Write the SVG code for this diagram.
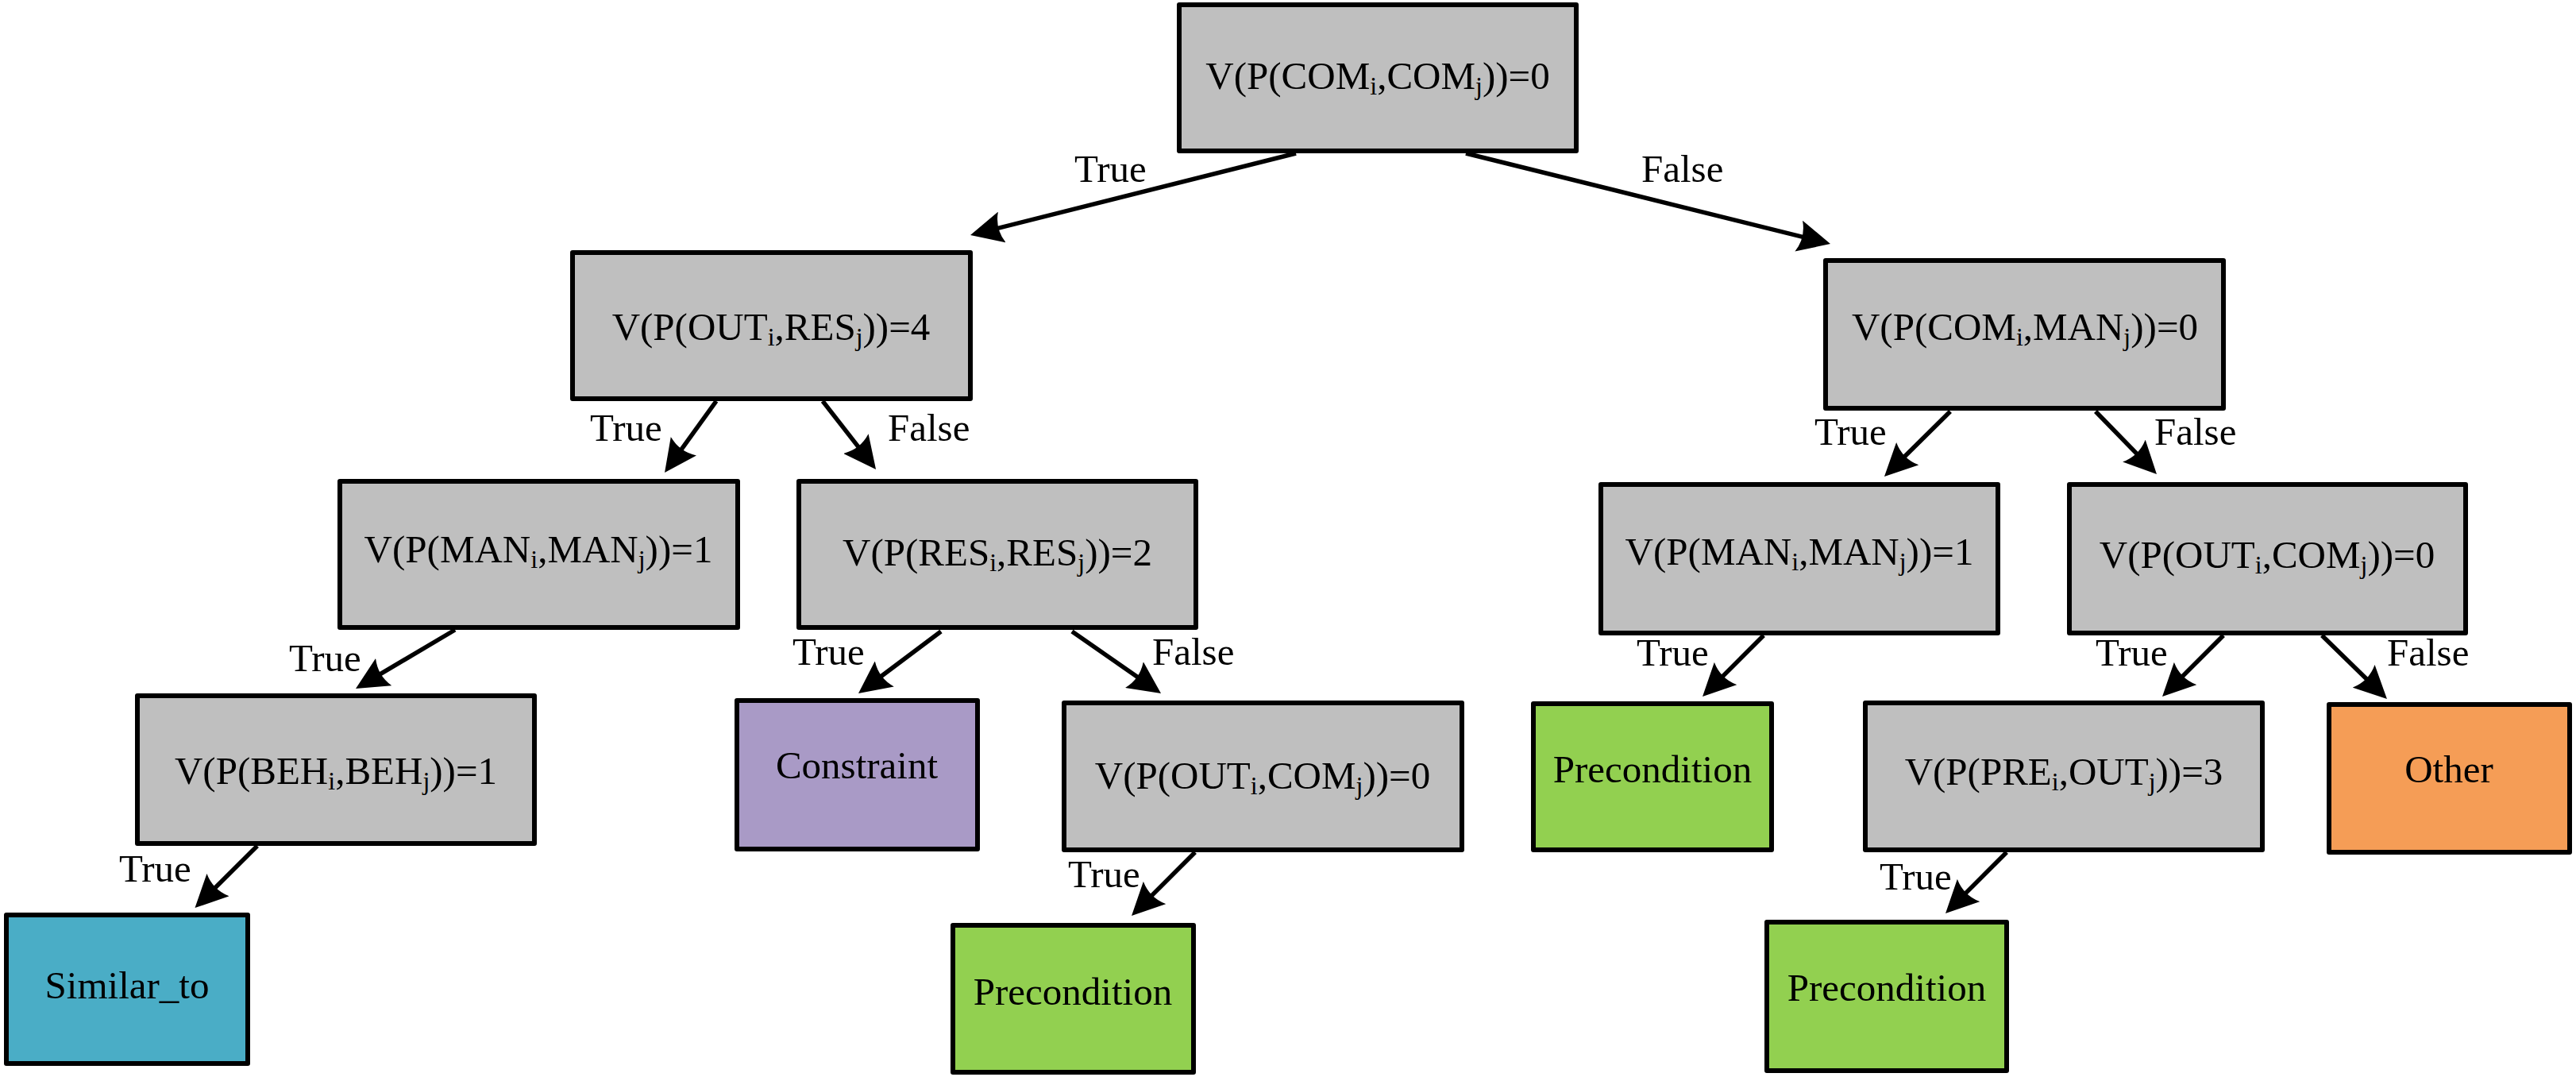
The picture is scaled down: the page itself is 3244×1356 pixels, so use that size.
<svg xmlns="http://www.w3.org/2000/svg" width="3244" height="1356" viewBox="0 0 3244 1356">
<style>
.box{stroke:#000;stroke-width:6;stroke-linejoin:round}
.g{fill:#BFBFBF}
.grn{fill:#92D050}
.pur{fill:#A99AC6}
.org{fill:#F59D56}
.teal{fill:#4AADC6}
.t{font-family:"Liberation Serif","Times New Roman",serif;font-size:49px;fill:#000;text-anchor:middle}
.lb{font-family:"Liberation Serif","Times New Roman",serif;font-size:49px;fill:#000}
.s{font-size:32px}
.c{stroke:#000;stroke-width:5.5;fill:none;marker-end:url(#ah)}
</style>
<defs>
<marker id="ah" markerUnits="userSpaceOnUse" markerWidth="42" markerHeight="40" viewBox="0 0 42 40" refX="31" refY="20" orient="auto">
<path d="M41,20 L0,0 Q9,20 0,40 Z" fill="#000"/>
</marker>
</defs>
<rect width="3244" height="1356" fill="#fff"/>

<g id="connectors">
<line class="c" x1="1632" y1="193" x2="1231.7" y2="293.6"/>
<line class="c" x1="1846" y1="193" x2="2295.3" y2="304.6"/>
<line class="c" x1="902" y1="505" x2="842.9" y2="586.9"/>
<line class="c" x1="1036" y1="505" x2="1096.9" y2="583.1"/>
<line class="c" x1="573" y1="793" x2="456.6" y2="861.9"/>
<line class="c" x1="324" y1="1065" x2="252.6" y2="1136"/>
<line class="c" x1="1185" y1="795" x2="1089" y2="867"/>
<line class="c" x1="1350" y1="795" x2="1453.8" y2="867.3"/>
<line class="c" x1="1505" y1="1073" x2="1432.1" y2="1145.9"/>
<line class="c" x1="2456" y1="518" x2="2380.1" y2="593"/>
<line class="c" x1="2639" y1="518" x2="2709" y2="589.8"/>
<line class="c" x1="2221" y1="800" x2="2151.1" y2="869.9"/>
<line class="c" x1="2800" y1="800" x2="2730.1" y2="869.9"/>
<line class="c" x1="2924" y1="800" x2="2998.8" y2="873"/>
<line class="c" x1="2527" y1="1073" x2="2457.1" y2="1142.9"/>
<text class="lb" x="1353" y="229">True</text>
<text class="lb" x="2067" y="229">False</text>
<text class="lb" x="743" y="555">True</text>
<text class="lb" x="1118" y="555">False</text>
<text class="lb" x="364" y="845">True</text>
<text class="lb" x="150" y="1110">True</text>
<text class="lb" x="998" y="837">True</text>
<text class="lb" x="1451" y="837">False</text>
<text class="lb" x="1345" y="1117">True</text>
<text class="lb" x="2285" y="560">True</text>
<text class="lb" x="2713" y="560">False</text>
<text class="lb" x="2061" y="838">True</text>
<text class="lb" x="2639" y="838">True</text>
<text class="lb" x="3006" y="838">False</text>
<text class="lb" x="2367" y="1120">True</text>
</g>

<g id="n-com-com">
<rect class="box g" x="1485" y="6" width="500" height="184"/>
<text class="t" x="1735" y="112">V(P(COM<tspan class="s" dy="7">i</tspan><tspan dy="-7">,COM</tspan><tspan class="s" dy="7">j</tspan><tspan dy="-7">))=0</tspan></text>
</g>
<g id="n-out-res">
<rect class="box g" x="721" y="318" width="501" height="184"/>
<text class="t" x="971" y="428">V(P(OUT<tspan class="s" dy="7">i</tspan><tspan dy="-7">,RES</tspan><tspan class="s" dy="7">j</tspan><tspan dy="-7">))=4</tspan></text>
</g>
<g id="n-com-man">
<rect class="box g" x="2299" y="328" width="501" height="186"/>
<text class="t" x="2550" y="428">V(P(COM<tspan class="s" dy="7">i</tspan><tspan dy="-7">,MAN</tspan><tspan class="s" dy="7">j</tspan><tspan dy="-7">))=0</tspan></text>
</g>
<g id="n-man-man-l">
<rect class="box g" x="428" y="606" width="501" height="184"/>
<text class="t" x="678" y="708">V(P(MAN<tspan class="s" dy="7">i</tspan><tspan dy="-7">,MAN</tspan><tspan class="s" dy="7">j</tspan><tspan dy="-7">))=1</tspan></text>
</g>
<g id="n-res-res">
<rect class="box g" x="1006" y="606" width="500" height="184"/>
<text class="t" x="1256" y="712">V(P(RES<tspan class="s" dy="7">i</tspan><tspan dy="-7">,RES</tspan><tspan class="s" dy="7">j</tspan><tspan dy="-7">))=2</tspan></text>
</g>
<g id="n-man-man-r">
<rect class="box g" x="2016" y="610" width="500" height="187"/>
<text class="t" x="2266" y="711">V(P(MAN<tspan class="s" dy="7">i</tspan><tspan dy="-7">,MAN</tspan><tspan class="s" dy="7">j</tspan><tspan dy="-7">))=1</tspan></text>
</g>
<g id="n-out-com-r">
<rect class="box g" x="2606" y="610" width="499" height="187"/>
<text class="t" x="2855" y="715">V(P(OUT<tspan class="s" dy="7">i</tspan><tspan dy="-7">,COM</tspan><tspan class="s" dy="7">j</tspan><tspan dy="-7">))=0</tspan></text>
</g>
<g id="n-beh-beh">
<rect class="box g" x="173" y="876" width="500" height="186"/>
<text class="t" x="423" y="987">V(P(BEH<tspan class="s" dy="7">i</tspan><tspan dy="-7">,BEH</tspan><tspan class="s" dy="7">j</tspan><tspan dy="-7">))=1</tspan></text>
</g>
<g id="n-constraint">
<rect class="box pur" x="928" y="882" width="303" height="187"/>
<text class="t" x="1079" y="980">Constraint</text>
</g>
<g id="n-out-com-l">
<rect class="box g" x="1340" y="885" width="501" height="185"/>
<text class="t" x="1590" y="993">V(P(OUT<tspan class="s" dy="7">i</tspan><tspan dy="-7">,COM</tspan><tspan class="s" dy="7">j</tspan><tspan dy="-7">))=0</tspan></text>
</g>
<g id="n-precondition-2">
<rect class="box grn" x="1931" y="886" width="300" height="184"/>
<text class="t" x="2081" y="985">Precondition</text>
</g>
<g id="n-pre-out">
<rect class="box g" x="2349" y="885" width="500" height="185"/>
<text class="t" x="2599" y="988">V(P(PRE<tspan class="s" dy="7">i</tspan><tspan dy="-7">,OUT</tspan><tspan class="s" dy="7">j</tspan><tspan dy="-7">))=3</tspan></text>
</g>
<g id="n-other">
<rect class="box org" x="2933" y="887" width="303" height="186"/>
<text class="t" x="3084" y="985">Other</text>
</g>
<g id="n-similar-to">
<rect class="box teal" x="8" y="1152" width="304" height="187"/>
<text class="t" x="160" y="1257">Similar_to</text>
</g>
<g id="n-precondition-1">
<rect class="box grn" x="1200" y="1165" width="303" height="185"/>
<text class="t" x="1351" y="1265">Precondition</text>
</g>
<g id="n-precondition-3">
<rect class="box grn" x="2225" y="1161" width="302" height="187"/>
<text class="t" x="2376" y="1260">Precondition</text>
</g>
</svg>
